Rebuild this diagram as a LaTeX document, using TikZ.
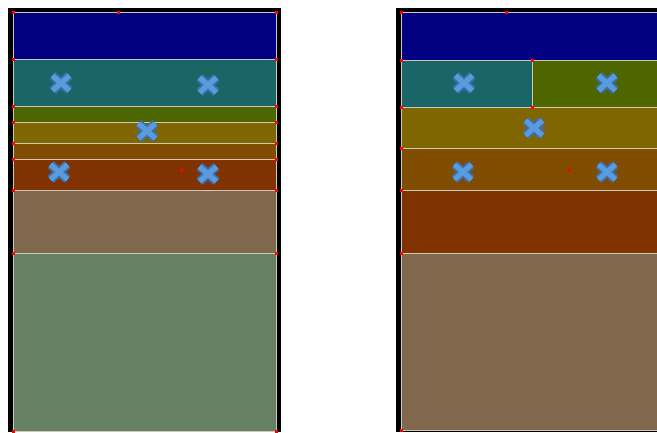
\documentclass[tikz,border=0pt]{standalone}
\usetikzlibrary{calc}

\definecolor{bandnavy}{RGB}{0,0,128}
\definecolor{bandteal}{RGB}{26,102,102}
\definecolor{bandgreen}{RGB}{77,102,0}
\definecolor{bandolive}{RGB}{128,102,0}
\definecolor{bandamber}{RGB}{128,77,0}
\definecolor{bandrust}{RGB}{128,51,0}
\definecolor{bandbrown}{RGB}{128,104,77}
\definecolor{bandsage}{RGB}{102,128,102}
\definecolor{bandline}{RGB}{205,200,185}
\definecolor{xedge}{RGB}{60,112,170}
\definecolor{xfill}{RGB}{90,155,222}

\tikzset{
  frame/.style={fill=black},
  band/.style={draw=bandline, line width=0.9pt},
  cornerdot/.style={fill=red, inner sep=0pt, minimum size=3pt},
  xouter/.style={draw=xedge, line width=9pt},
  xinner/.style={draw=xfill, line width=5.2pt},
}

%% cross marker at a named coordinate
\newcommand{\xmark}[1]{%
  \draw[xouter] ($(#1)+(-8.5,-7.5)$) -- ($(#1)+(8.5,7.5)$) ($(#1)+(-8.5,7.5)$) -- ($(#1)+(8.5,-7.5)$);
  \draw[xinner] ($(#1)+(-8.5,-7.5)$) -- ($(#1)+(8.5,7.5)$) ($(#1)+(-8.5,7.5)$) -- ($(#1)+(8.5,-7.5)$);
}

\begin{document}
\begin{tikzpicture}[x=1pt, y=-1pt]
\useasboundingbox (0,0) rectangle (657,432);

%% Parameters
%% panel edges, can be modified
\def\LeftA{13}
\def\LeftB{276}
\def\RightA{401.5}
\def\RightB{662}
\def\RightMid{532.3}

%% ***Left panel***
\fill[frame] (8,8) rectangle (281,432);
\filldraw[band, fill=bandnavy]  (\LeftA,12.7)  rectangle (\LeftB,59.5);
\filldraw[band, fill=bandteal]  (\LeftA,59.5)  rectangle (\LeftB,106.7);
\filldraw[band, fill=bandgreen] (\LeftA,106.7) rectangle (\LeftB,122);
\filldraw[band, fill=bandolive] (\LeftA,122)   rectangle (\LeftB,143);
\filldraw[band, fill=bandamber] (\LeftA,143)   rectangle (\LeftB,159);
\filldraw[band, fill=bandrust]  (\LeftA,159)   rectangle (\LeftB,190.7);
\filldraw[band, fill=bandbrown] (\LeftA,190.7) rectangle (\LeftB,253.3);
\filldraw[band, fill=bandsage]  (\LeftA,253.3) rectangle (\LeftB,431);

% corner dots
\node[cornerdot] (la0) at (\LeftA,12.7) {};
\node[cornerdot] (lt)  at (118,12.7) {};
\node[cornerdot] (lb0) at (\LeftB,12.7) {};
\node[cornerdot] (la1) at (\LeftA,59.5) {};
\node[cornerdot] (lb1) at (\LeftB,59.5) {};
\node[cornerdot] (la2) at (\LeftA,106.7) {};
\node[cornerdot] (lb2) at (\LeftB,106.7) {};
\node[cornerdot] (la3) at (\LeftA,122) {};
\node[cornerdot] (lb3) at (\LeftB,122) {};
\node[cornerdot] (la4) at (\LeftA,143) {};
\node[cornerdot] (lb4) at (\LeftB,143) {};
\node[cornerdot] (la5) at (\LeftA,159) {};
\node[cornerdot] (lb5) at (\LeftB,159) {};
\node[cornerdot] (la6) at (\LeftA,190.7) {};
\node[cornerdot] (lb6) at (\LeftB,190.7) {};
\node[cornerdot] (la7) at (\LeftA,253.3) {};
\node[cornerdot] (lb7) at (\LeftB,253.3) {};
\node[cornerdot] (la8) at (\LeftA,431) {};
\node[cornerdot] (lb8) at (\LeftB,431) {};
\node[cornerdot] (lc)  at (181,170) {};

% markers
\coordinate (lx1) at (61,83);
\coordinate (lx2) at (208,85);
\coordinate (lx3) at (147,131);
\coordinate (lx4) at (59,172);
\coordinate (lx5) at (208,174);
\xmark{lx1}\xmark{lx2}\xmark{lx3}\xmark{lx4}\xmark{lx5}

%% ***Right panel***
\fill[frame] (396,8) rectangle (662,432);
\filldraw[band, fill=bandnavy]  (\RightA,12.7)  rectangle (\RightB,60.7);
\filldraw[band, fill=bandteal]  (\RightA,60.7)  rectangle (\RightMid,107);
\filldraw[band, fill=bandgreen] (\RightMid,60.7) rectangle (\RightB,107);
\filldraw[band, fill=bandolive] (\RightA,107)   rectangle (\RightB,148.7);
\filldraw[band, fill=bandamber] (\RightA,148.7) rectangle (\RightB,190);
\filldraw[band, fill=bandrust]  (\RightA,190)   rectangle (\RightB,253.3);
\filldraw[band, fill=bandbrown] (\RightA,253.3) rectangle (\RightB,430.3);

% corner dots
\node[cornerdot] (ra0) at (\RightA,12.7) {};
\node[cornerdot] (rt)  at (506,12.7) {};
\node[cornerdot] (ra1) at (\RightA,60.7) {};
\node[cornerdot] (rm1) at (\RightMid,60.7) {};
\node[cornerdot] (ra2) at (\RightA,107) {};
\node[cornerdot] (rm2) at (\RightMid,107) {};
\node[cornerdot] (ra3) at (\RightA,148.7) {};
\node[cornerdot] (ra4) at (\RightA,190) {};
\node[cornerdot] (ra5) at (\RightA,253.3) {};
\node[cornerdot] (ra6) at (\RightA,430.3) {};
\node[cornerdot] (rc)  at (569,170) {};

% markers
\coordinate (rx1) at (464,83);
\coordinate (rx2) at (607,83);
\coordinate (rx3) at (534,128);
\coordinate (rx4) at (463,172);
\coordinate (rx5) at (607,172);
\xmark{rx1}\xmark{rx2}\xmark{rx3}\xmark{rx4}\xmark{rx5}
\end{tikzpicture}
\end{document}
